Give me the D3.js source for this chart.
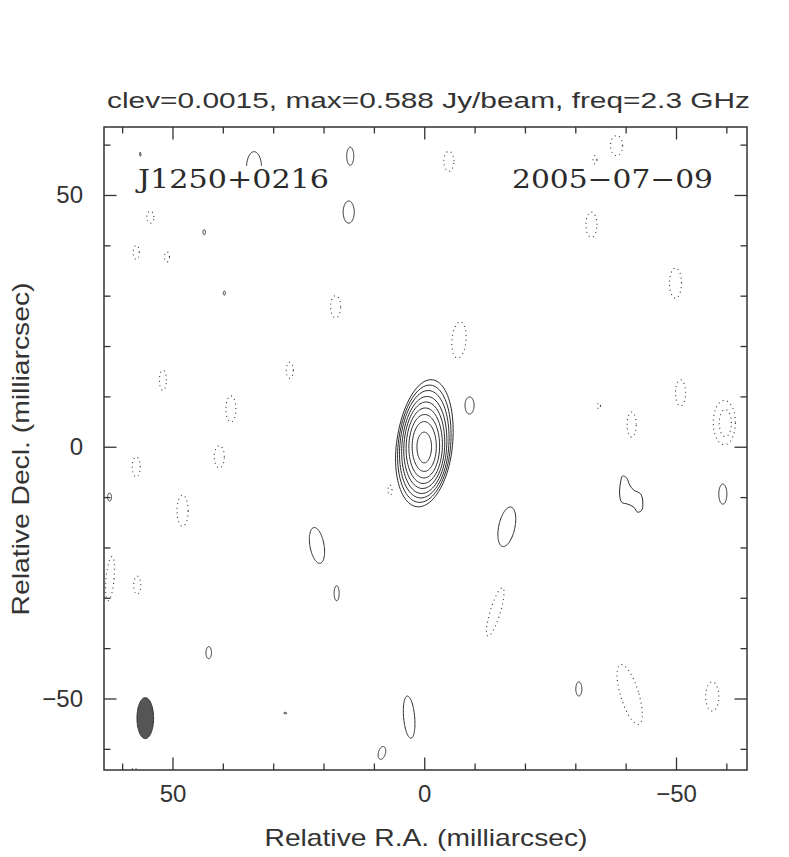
<!DOCTYPE html>
<html><head><meta charset="utf-8">
<script src="https://cdn.jsdelivr.net/npm/d3@7"></script>
<style>body{margin:0;background:#fff}svg{display:block}</style>
</head><body>
<svg id="c" width="789" height="857"></svg>
<script>
// ---- data (milliarcsec) ----
const titleText = "clev=0.0015, max=0.588 Jy/beam, freq=2.3 GHz";
const sourceName = "J1250+0216";
const obsDate = "2005\u221207\u221209";
const xLabel = "Relative R.A. (milliarcsec)";
const yLabel = "Relative Decl. (milliarcsec)";
const majorTicks = [-50, 0, 50];
const minorTicks = [-60, -40, -30, -20, -10, 10, 20, 30, 40, 60];

// core component contour levels (outer -> inner)
const coreRx    = [5.55, 5.2, 4.85, 4.45, 4.05, 3.6, 3.05, 2.4, 1.45];
const coreRyTop = [13.4, 12.3, 11.2, 10.0, 8.9, 7.7, 6.4, 5.0, 2.9];
const coreRyBot = [12.0, 11.1, 10.2, 9.3, 8.3, 7.3, 6.2, 4.9, 3.2];
const coreRot   = [7, 6, 5, 4, 3, 2, 1, 0, 0];

// positive (solid) isolated contours
const posX   = [33.8, 14.7, 15.0, 43.7, 39.7, -9.0, 21.3, 17.4, 42.8, -16.4, -59.3, 3.0, 8.4, -30.7, 62.5, 56.4, 27.6];
const posY   = [55.4, 57.7, 46.6, 42.6, 30.5, 8.2, -19.6, -29.1, -40.9, -15.9, -9.4, -53.7, -60.8, -48.1, -10.0, 58.1, -52.9];
const posRx  = [1.5, 0.7, 1.1, 0.25, 0.2, 0.9, 1.4, 0.5, 0.55, 1.6, 0.8, 1.1, 0.7, 0.6, 0.4, 0.12, 0.3];
const posRy  = [3.2, 1.8, 2.2, 0.5, 0.4, 1.7, 3.6, 1.5, 1.2, 4.0, 2.0, 4.2, 1.3, 1.4, 0.8, 0.4, 0.15];
const posRot = [0, 0, 0, 0, 0, 0, -10, 0, 0, 12, 0, -5, 15, 0, 0, 0, 0];

// irregular positive contour east of core
const peanutX = [-39.4, -40.2, -40.8, -41.6, -43.0, -43.4, -43.2, -42.4, -41.6, -40.4, -39.2, -38.8, -39.0];
const peanutY = [-5.8, -6.2, -7.6, -8.6, -9.4, -11.0, -12.6, -13.0, -12.0, -11.4, -11.0, -9.4, -7.0];

// negative (dotted) contours
const negX   = [-4.9, -38.2, -33.2, -33.9, -49.9, -50.9, -59.6, -59.8, -41.2, -34.7, -6.9, 17.6, 26.7, 38.4, 40.7, 48.0, 51.9, 57.2, 54.4, 57.2, 51.1, 62.4, 57.0, -14.1, 6.8, -40.8, -57.2, 57.6];
const negY   = [56.7, 59.8, 44.1, 57.0, 32.5, 10.7, 4.8, 4.7, 4.4, 8.1, 21.2, 27.8, 15.2, 7.5, -2.0, -12.7, 13.2, -4.0, 45.6, 38.6, 37.7, -26.2, -27.5, -32.8, -8.6, -49.2, -49.6, -64.9];
const negRx  = [1.0, 1.2, 1.1, 0.4, 1.2, 1.0, 2.2, 1.2, 0.9, 0.3, 1.4, 1.0, 0.7, 1.0, 1.0, 1.1, 0.7, 0.8, 0.7, 0.6, 0.5, 0.8, 0.7, 1.0, 0.4, 1.8, 1.3, 0.6];
const negRy  = [2.0, 2.0, 2.5, 0.8, 3.0, 2.6, 4.4, 2.7, 2.5, 0.6, 3.6, 2.2, 1.6, 2.6, 2.2, 3.1, 2.0, 2.0, 1.2, 1.4, 1.0, 4.4, 1.8, 5.0, 1.0, 6.2, 2.9, 1.2];
const negRot = [0, 0, 0, 0, 0, 0, 0, 0, 0, 0, 5, 0, 0, 0, 0, 0, 0, 0, 0, 0, 0, 5, 0, 17, 0, -17, 0, 0];

// restoring beam
const beamX = 55.4, beamY = -53.9, beamRx = 1.65, beamRy = 4.07;

// ---- layout ----
const svg = d3.select("#c");
const xs = d3.scaleLinear().domain([63.6, -64.1]).range([104, 747]);
const ys = d3.scaleLinear().domain([-64.2, 63.5]).range([770, 127]);
const kx = Math.abs(xs(1) - xs(0)), ky = Math.abs(ys(1) - ys(0));
const ink = "#2a2a2a";

svg.append("clipPath").attr("id", "pc").append("rect")
  .attr("x", 104).attr("y", 127).attr("width", 643).attr("height", 643);
const plot = svg.append("g").attr("clip-path", "url(#pc)");

function shape(cx, cy, rx, ryT, ryB, rot) {
  const px = xs(cx), py = ys(cy), a = rot * Math.PI / 180;
  const pts = d3.range(0, 96).map(i => {
    const t = i / 96 * 2 * Math.PI;
    const lx = rx * Math.cos(t) * kx;
    const ly = -(Math.sin(t) >= 0 ? ryT : ryB) * Math.sin(t) * ky;
    return [px + lx * Math.cos(a) - ly * Math.sin(a), py + lx * Math.sin(a) + ly * Math.cos(a)];
  });
  return d3.line().curve(d3.curveLinearClosed)(pts);
}

// core
plot.selectAll("path.core").data(coreRx).join("path").attr("class", "core")
  .attr("d", (d, i) => shape(0, 0, d, coreRyTop[i], coreRyBot[i], coreRot[i]))
  .attr("fill", "none").attr("stroke", ink).attr("stroke-width", 1);

// positive blobs
plot.selectAll("path.pos").data(posX).join("path").attr("class", "pos")
  .attr("d", (d, i) => shape(d, posY[i], posRx[i], posRy[i], posRy[i], posRot[i]))
  .attr("fill", "none").attr("stroke", ink).attr("stroke-width", 1);

plot.append("path")
  .attr("d", d3.line().x(d => xs(d[0])).y(d => ys(d[1])).curve(d3.curveCatmullRomClosed)(peanutX.map((x, i) => [x, peanutY[i]])))
  .attr("fill", "none").attr("stroke", ink).attr("stroke-width", 1);

// negative blobs
plot.selectAll("path.neg").data(negX).join("path").attr("class", "neg")
  .attr("d", (d, i) => shape(d, negY[i], negRx[i], negRy[i], negRy[i], negRot[i]))
  .attr("fill", "none").attr("stroke", "#333").attr("stroke-width", 1.1)
  .attr("stroke-dasharray", "1 3.6");

// beam
plot.append("path").attr("d", shape(beamX, beamY, beamRx, beamRy, beamRy, 0))
  .attr("fill", "#555").attr("stroke", "#333").attr("stroke-width", 1);

// labels inside plot (with background)
svg.append("rect").attr("x", 134).attr("y", 166).attr("width", 200).attr("height", 30).attr("fill", "#fff");
svg.append("rect").attr("x", 508).attr("y", 166).attr("width", 210).attr("height", 30).attr("fill", "#fff");
svg.append("text").attr("x", 138).attr("y", 188).text(sourceName)
  .attr("font-family", "DejaVu Serif").attr("font-size", 26).attr("fill", ink)
  .attr("textLength", 191).attr("lengthAdjust", "spacingAndGlyphs");
svg.append("text").attr("x", 512).attr("y", 188).text(obsDate)
  .attr("font-family", "DejaVu Serif").attr("font-size", 26).attr("fill", ink)
  .attr("textLength", 201).attr("lengthAdjust", "spacingAndGlyphs");

// frame
svg.append("rect").attr("x", 104).attr("y", 127).attr("width", 643).attr("height", 643)
  .attr("fill", "none").attr("stroke", "#333").attr("stroke-width", 1.5);

// axes
const fmt = d => d3.format("")(d);
function addAxis(gen, tx, ty, vals, size, labels, pad) {
  const g = svg.append("g").attr("transform", `translate(${tx},${ty})`)
    .call(gen.tickValues(vals).tickSize(size).tickPadding(pad).tickFormat(labels ? fmt : ""));
  g.select(".domain").remove();
  g.selectAll("line").attr("stroke", "#333").attr("stroke-width", 1.3);
  g.selectAll("text").attr("font-family", "Liberation Sans, Arial, sans-serif")
    .attr("font-size", 24).attr("fill", "#333");
  return g;
}
addAxis(d3.axisBottom(xs), 0, 770, minorTicks, -6.5, false, 0);
addAxis(d3.axisBottom(xs), 0, 770, majorTicks, -12.5, true, 15);
addAxis(d3.axisTop(xs), 0, 127, minorTicks, -6.5, false, 0);
addAxis(d3.axisTop(xs), 0, 127, majorTicks, -12.5, false, 0);
addAxis(d3.axisLeft(ys), 104, 0, minorTicks, -6.5, false, 0);
addAxis(d3.axisLeft(ys), 104, 0, majorTicks, -12.5, true, 21);
addAxis(d3.axisRight(ys), 747, 0, minorTicks, -6.5, false, 0);
addAxis(d3.axisRight(ys), 747, 0, majorTicks, -12.5, false, 0);

// title & axis titles
svg.append("text").attr("x", 107).attr("y", 108).text(titleText)
  .attr("font-family", "Liberation Sans, Arial, sans-serif").attr("font-size", 22).attr("fill", "#333")
  .attr("textLength", 643).attr("lengthAdjust", "spacingAndGlyphs");
svg.append("text").attr("x", 426).attr("y", 846).attr("text-anchor", "middle").text(xLabel)
  .attr("font-family", "Liberation Sans, Arial, sans-serif").attr("font-size", 24).attr("fill", "#333")
  .attr("textLength", 323).attr("lengthAdjust", "spacingAndGlyphs");
svg.append("text").attr("transform", "translate(29,449) rotate(-90)").attr("text-anchor", "middle").text(yLabel)
  .attr("font-family", "Liberation Sans, Arial, sans-serif").attr("font-size", 24).attr("fill", "#333")
  .attr("textLength", 333).attr("lengthAdjust", "spacingAndGlyphs");
</script>
</body></html>
